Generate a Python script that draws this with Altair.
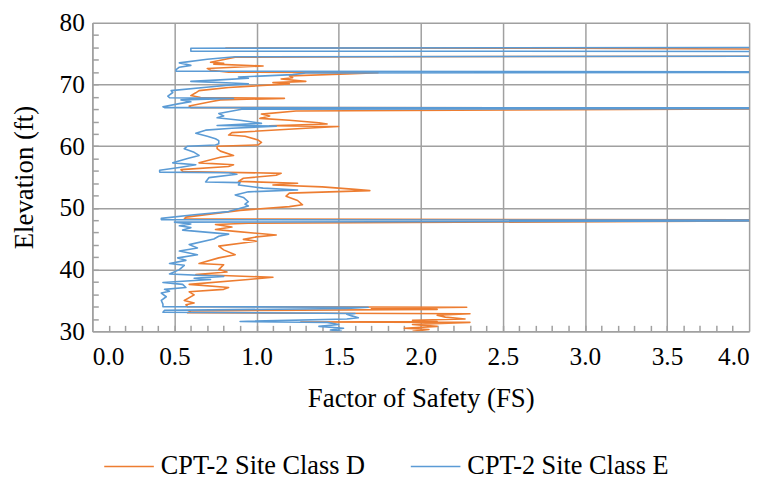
import altair as alt
import pandas as pd

# CPT-2 Site Class D (orange) - elevation (ft) and factor of safety
d_elev = [75.92, 75.88, 75.7, 74.6, 74.5, 74.45, 74.4, 73.6, 73.45, 73.3, 73.0, 72.6, 72.3, 72.0, 71.9, 71.7,
          71.4, 71.1, 70.9, 70.5, 70.3, 70.1, 69.5, 69.0, 68.65, 68.2, 67.9, 67.75, 67.5, 67.2, 66.5,
          66.25, 66.2, 66.1, 65.7, 65.2, 64.9, 64.5, 64.2, 63.8, 63.6, 63.3, 63.2, 62.9, 62.2, 61.8,
          61.6, 61.0, 60.6, 60.2, 60.0, 59.6, 59.2, 58.5, 58.2, 57.3, 57.0, 56.7, 56.2, 55.9, 55.6,
          55.3, 54.8, 54.3, 54.0, 53.7, 53.4, 53.0, 52.8, 52.4, 51.9, 51.2, 50.5, 50.2, 49.6, 48.5,
          48.2, 48.05, 47.95, 47.5, 47.3, 46.9, 46.5, 46.2, 45.6, 45.3, 44.9, 44.6, 43.8, 43.2, 42.4,
          41.9, 41.0, 40.8, 40.0, 39.6, 39.2, 38.75, 38.4, 37.6, 37.1, 36.8, 36.4, 35.9, 35.0, 34.6,
          34.3, 34.0, 33.9, 33.7, 33.55, 33.3, 33.0, 32.85, 32.6, 32.3, 32.0, 31.8, 31.6, 31.5, 31.45,
          31.1, 30.8, 30.5, 30.3, 30.0]
d_fs = [0.81, 2.9, 4.5, 4.5, 1.75, 1.30, 0.87, 0.72, 0.80, 0.74, 1.04, 0.70, 0.72, 0.83, 1.74, 1.55,
        1.20, 1.22, 1.15, 1.30, 1.10, 1.20, 0.83, 0.65, 0.63, 0.60, 0.66, 1.17, 0.78, 0.72, 0.59,
        0.60, 4.5, 4.5, 1.24, 1.03, 1.08, 1.02, 1.20, 1.38, 1.43, 1.08, 1.50, 1.30, 0.85, 0.83,
        0.93, 1.01, 1.03, 1.01, 0.76, 0.76, 0.78, 0.86, 0.78, 0.65, 0.86, 0.83, 0.54, 0.55, 1.15,
        1.12, 0.92, 0.89, 1.25, 1.10, 1.40, 1.60, 1.69, 1.20, 1.18, 1.25, 1.28, 1.20, 0.90, 0.57,
        0.56, 4.5, 4.5, 0.95, 0.75, 0.85, 0.75, 0.87, 1.12, 1.00, 0.92, 1.00, 0.77, 0.80, 0.87,
        0.77, 0.65, 0.80, 0.77, 0.82, 0.63, 1.10, 0.95, 0.59, 0.83, 0.80, 0.59, 0.62, 0.56, 0.62,
        0.57, 0.58, 2.28, 1.70, 2.10, 0.60, 0.58, 2.30, 2.10, 2.15, 2.27, 1.95, 2.10, 1.27, 2.30,
        1.95, 2.10, 1.90, 2.05, 1.95]

# CPT-2 Site Class E (blue)
e_elev = [76.0, 75.88, 75.4, 75.35, 74.6, 74.5, 74.1, 73.5, 73.1, 72.8, 72.4, 72.15, 72.05, 71.95,
          71.85, 71.6, 71.2, 71.0, 70.7, 70.5, 70.25, 70.1, 69.9, 69.6, 69.0, 68.7, 68.1, 67.85, 67.75,
          67.5, 67.2, 66.9, 66.4, 66.25, 66.2, 66.1, 66.0, 65.3, 64.9, 64.6, 64.2, 63.7, 63.35, 63.25,
          62.9, 62.6, 62.1, 61.6, 61.2, 60.9, 60.4, 60.2, 60.0, 59.6, 59.0, 58.5, 58.0, 57.3, 57.0,
          56.6, 56.1, 55.8, 55.7, 55.45, 54.9, 54.2, 54.1, 53.7, 53.2, 52.9, 52.6, 52.1, 51.7, 51.0,
          50.6, 50.3, 49.4, 48.9, 48.3, 48.1, 48.0, 47.9, 47.7, 47.4, 47.1, 46.8, 46.4, 45.75, 45.4,
          44.95, 44.05, 43.5, 43.0, 42.4, 41.9, 41.5, 41.0, 40.7, 40.0, 39.3, 38.9, 38.6, 38.4, 37.9,
          37.6, 37.1, 36.8, 36.5, 36.2, 35.6, 35.0, 34.4, 34.0, 33.9, 33.7, 33.4, 33.1, 32.9, 32.75,
          32.5, 32.2, 32.0, 31.6, 31.45, 31.1, 30.8, 30.5, 30.2, 30.0]
e_fs = [4.5, 0.60, 0.60, 4.5, 4.5, 0.87, 0.70, 0.53, 0.60, 0.53, 0.51, 0.51, 4.5, 4.5,
        1.30, 1.22, 0.89, 0.95, 0.75, 0.60, 0.85, 0.95, 0.83, 0.71, 0.48, 0.49, 0.46, 0.47, 0.86,
        0.54, 0.60, 0.53, 0.43, 0.44, 4.5, 4.5, 0.91, 0.77, 0.80, 0.76, 0.90, 1.03, 0.76, 1.12,
        0.85, 0.69, 0.63, 0.70, 0.75, 0.77, 0.77, 0.75, 0.58, 0.56, 0.62, 0.65, 0.58, 0.49, 0.63,
        0.54, 0.41, 0.41, 0.83, 0.88, 0.71, 0.69, 0.90, 0.89, 1.04, 1.25, 0.95, 0.87, 0.92, 0.95,
        0.93, 0.95, 0.83, 0.62, 0.42, 0.42, 4.5, 4.5, 0.50, 0.60, 0.53, 0.60, 0.55, 0.83, 0.77,
        0.74, 0.59, 0.64, 0.53, 0.64, 0.52, 0.57, 0.47, 0.56, 0.53, 0.47, 0.80, 0.62, 0.72, 0.43,
        0.55, 0.57, 0.44, 0.47, 0.42, 0.45, 0.42, 0.43, 0.43, 1.68, 1.55, 0.44, 0.43, 1.60, 1.55,
        1.58, 1.62, 1.55, 0.90, 1.43, 1.50, 1.38, 1.53, 1.45, 1.52]

series_names = ["CPT-2 Site Class D", "CPT-2 Site Class E"]
series_colors = ["#ED7D31", "#5B9BD5"]

x_ticks = [0.0, 0.5, 1.0, 1.5, 2.0, 2.5, 3.0, 3.5, 4.0]
y_ticks = [30, 40, 50, 60, 70, 80]
x_minor = [round(i * 0.1, 1) for i in range(1, 40)]
y_minor = list(range(32, 80, 2))

rows = []
for i, (e, f) in enumerate(zip(d_elev, d_fs)):
    rows.append({"series": series_names[0], "elev": e, "fs": f, "idx": i})
for i, (e, f) in enumerate(zip(e_elev, e_fs)):
    rows.append({"series": series_names[1], "elev": e, "fs": f, "idx": i})
df = pd.DataFrame(rows)

W, H = 662, 311
FONT = "Liberation Serif"
GRID = "#A0A0A0"

xscale = alt.Scale(domain=[0, 4], nice=False, zero=False)
yscale = alt.Scale(domain=[30, 80], nice=False, zero=False)

lines = alt.Chart(df).mark_line(clip=True, strokeWidth=1.6, strokeJoin="round").encode(
    x=alt.X("fs:Q", scale=xscale,
            axis=alt.Axis(values=x_ticks, format=".1f", title="Factor of Safety (FS)",
                          grid=True, gridColor=GRID, gridWidth=1.5, ticks=False,
                          domainColor=GRID, domainWidth=1.5, labelPadding=13, titlePadding=16,
                          labelFontSize=25.5, titleFontSize=27,
                          titleFontWeight="normal", labelColor="black", titleColor="black")),
    y=alt.Y("elev:Q", scale=yscale,
            axis=alt.Axis(values=y_ticks, format="d", title="Elevation (ft)",
                          grid=True, gridColor=GRID, gridWidth=1.5, ticks=False,
                          domainColor=GRID, domainWidth=1.5, labelPadding=8, titlePadding=21,
                          labelFontSize=25.5, titleFontSize=27,
                          titleFontWeight="normal", labelColor="black", titleColor="black")),
    color=alt.Color("series:N", scale=alt.Scale(domain=series_names, range=series_colors),
                    legend=alt.Legend(title=None, orient="none", legendX=11, legendY=421,
                                      direction="horizontal", symbolType="stroke",
                                      symbolSize=2500, symbolStrokeWidth=1.6,
                                      labelFontSize=26.5, labelColor="black",
                                      labelOffset=6, columnPadding=42, labelLimit=400)),
    order="idx:Q",
)

minor = alt.Chart(df).mark_line(opacity=0).encode(
    x=alt.X("fs:Q", scale=xscale,
            axis=alt.Axis(orient="top", offset=-H, values=x_minor, labels=False, domain=False,
                          grid=False, ticks=True, tickSize=6, tickColor=GRID, tickWidth=1.5,
                          title=None)),
    y=alt.Y("elev:Q", scale=yscale,
            axis=alt.Axis(orient="right", offset=-W, values=y_minor, labels=False, domain=False,
                          grid=False, ticks=True, tickSize=6, tickColor=GRID, tickWidth=1.5,
                          title=None)),
    detail="series:N",
    order="idx:Q",
)

chart = alt.layer(minor, lines).resolve_axis(x="independent", y="independent").properties(
    width=W, height=H,
    autosize=alt.AutoSizeParams(type="none"),
    padding={"left": 85, "top": 13, "right": 15, "bottom": 150},
).configure(
    background="white", font=FONT
).configure_view(stroke=None).configure_axis(
    labelFont=FONT, titleFont=FONT
).configure_legend(labelFont=FONT)

chart.save("out.html", embed_options={"renderer": "svg", "actions": False})
